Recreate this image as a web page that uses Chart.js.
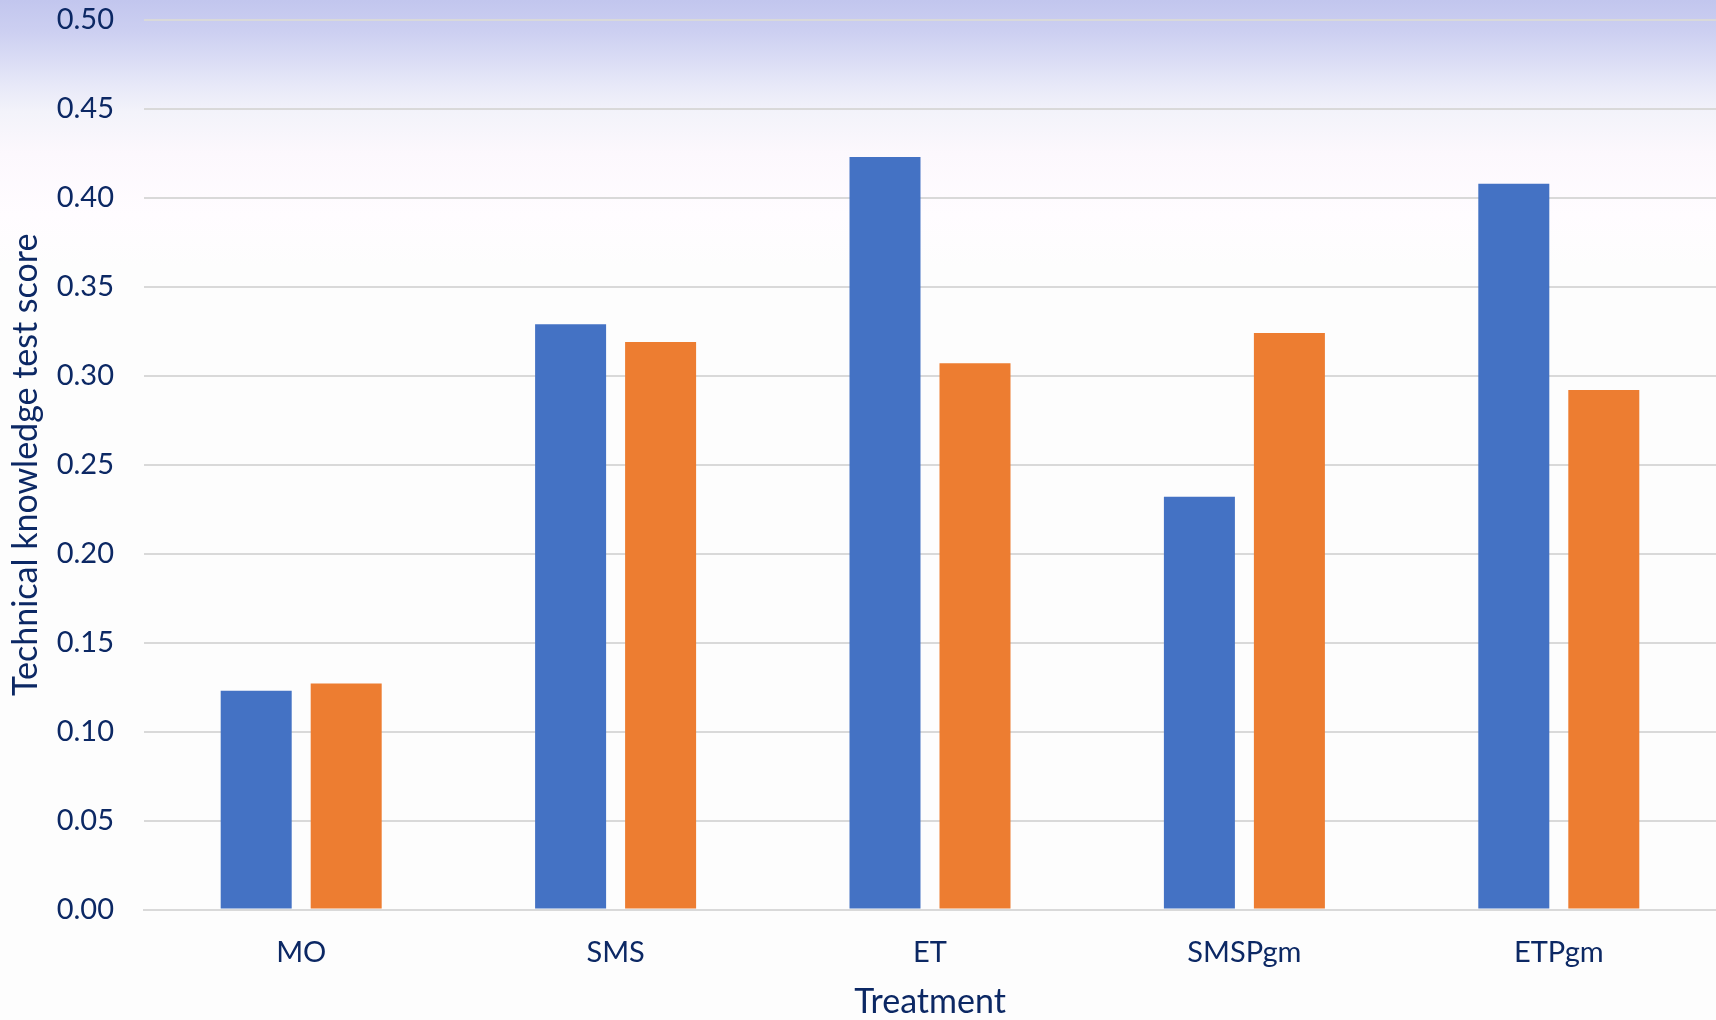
<!DOCTYPE html>
<html>
<head>
<meta charset="utf-8">
<script src="https://cdn.jsdelivr.net/npm/chart.js@4/dist/chart.umd.min.js"></script>
<style>
  html, body { margin: 0; padding: 0; background: #fdfdfd; }
  #wrap { width: 1716px; height: 1020px; position: relative; }
</style>
</head>
<body>
<div id="wrap"><canvas id="chart" width="1716" height="1020"></canvas></div>
<script>
// Treatment groups and mean technical knowledge test scores
const categories = ['MO', 'SMS', 'ET', 'SMSPgm', 'ETPgm'];
const seriesA = [0.123, 0.329, 0.423, 0.232, 0.408];
const seriesB = [0.127, 0.319, 0.307, 0.324, 0.292];
const yTicks = [0.00, 0.05, 0.10, 0.15, 0.20, 0.25, 0.30, 0.35, 0.40, 0.45, 0.50];

const navy = '#0c2864';
const gridGrey = '#d9d9d9';
const fontFamily = 'Lato, "Open Sans", sans-serif';

// Soft slide-style backdrop: lavender band at the top fading to white
const backdrop = {
  id: 'backdrop',
  beforeDraw(chart) {
    const { ctx, width, height } = chart;
    const g = ctx.createLinearGradient(0, 0, 0, height);
    g.addColorStop(0.000, 'rgb(194,198,238)');
    g.addColorStop(0.030, 'rgb(204,207,241)');
    g.addColorStop(0.060, 'rgb(219,221,245)');
    g.addColorStop(0.085, 'rgb(232,233,248)');
    g.addColorStop(0.110, 'rgb(243,243,250)');
    g.addColorStop(0.150, 'rgb(252,248,253)');
    g.addColorStop(0.210, 'rgb(255,252,255)');
    g.addColorStop(0.260, 'rgb(253,253,253)');
    g.addColorStop(1.000, 'rgb(253,253,253)');
    ctx.save();
    ctx.fillStyle = g;
    ctx.fillRect(0, 0, width, height);
    ctx.restore();
  }
};

new Chart(document.getElementById('chart'), {
  type: 'bar',
  data: {
    labels: categories,
    datasets: [
      { label: 'Series 1', data: seriesA, backgroundColor: '#4472c4', borderWidth: 0 },
      { label: 'Series 2', data: seriesB, backgroundColor: '#ed7d31', borderWidth: 0 }
    ]
  },
  options: {
    responsive: false,
    animation: false,
    devicePixelRatio: 1,
    layout: { padding: { top: 20, right: 0, left: 0, bottom: 0 } },
    datasets: { bar: { categoryPercentage: 0.5725, barPercentage: 0.789 } },
    plugins: {
      legend: { display: false },
      tooltip: { enabled: false }
    },
    scales: {
      x: {
        grid: { display: false, drawTicks: false },
        border: { display: true, color: gridGrey, width: 2 },
        ticks: { color: navy, font: { family: fontFamily, size: 29 }, padding: 26 },
        title: {
          display: true, text: 'Treatment', color: navy,
          font: { family: fontFamily, size: 34 }, padding: { top: 0, bottom: -2 }
        },
        afterFit(scale) { scale.height = 110.5; scale.paddingLeft = 0; scale.paddingRight = 0; }
      },
      y: {
        min: 0, max: 0.5,
        afterBuildTicks(scale) { scale.ticks = yTicks.map(v => ({ value: v })); },
        grid: { color: gridGrey, lineWidth: 2, drawTicks: false },
        border: { display: false },
        ticks: {
          color: navy, font: { family: fontFamily, size: 29 }, padding: 30,
          callback: v => Number(v).toFixed(2)
        },
        title: {
          display: true, text: 'Technical knowledge test score', color: navy,
          font: { family: fontFamily, size: 34 }, padding: { top: 6, bottom: 0 }
        },
        afterFit(scale) { scale.width = 144; scale.paddingTop = 0; scale.paddingBottom = 0; }
      }
    }
  },
  plugins: [backdrop]
});
</script>
</body>
</html>
